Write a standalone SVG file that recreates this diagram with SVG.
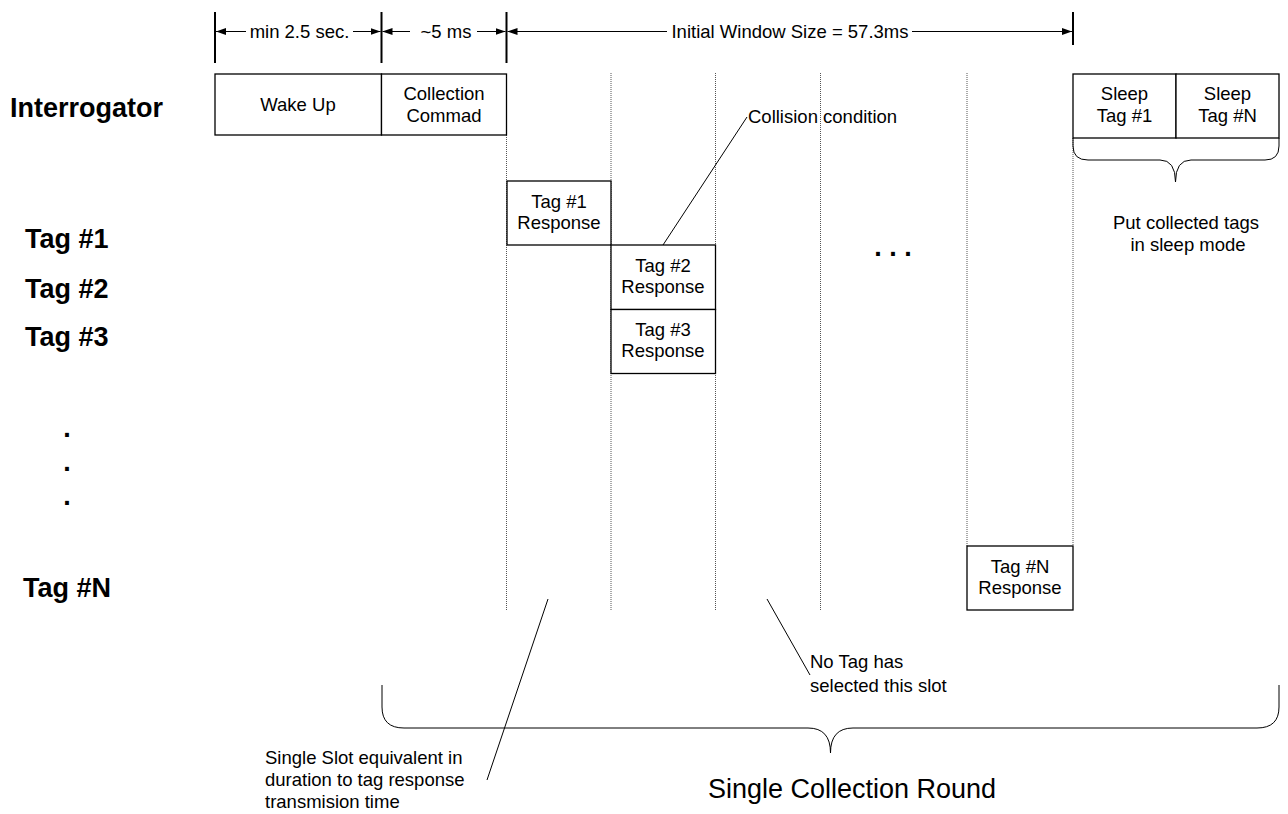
<svg xmlns="http://www.w3.org/2000/svg" width="1288" height="814" viewBox="0 0 1288 814">
<style>
text{font-family:"Liberation Sans",Arial,sans-serif;fill:#000}
.t{font-size:18.5px}
.c{text-anchor:middle}
.b{font-size:27px;font-weight:bold}
.big{font-size:27px}
.box{fill:#fff;stroke:#000;stroke-width:1.3}
.dot{stroke:#555;stroke-width:1;stroke-dasharray:1 1;fill:none}
.ln{stroke:#000;stroke-width:1;fill:none}
.tick{stroke:#000;stroke-width:2}
</style>
<defs>
<marker id="ah" viewBox="0 0 10 7" refX="10" refY="3.5" markerWidth="10" markerHeight="7" orient="auto" markerUnits="userSpaceOnUse"><path d="M0,0 L10,3.5 L0,7 z" fill="#000"/></marker>
</defs>
<rect width="1288" height="814" fill="#fff"/>

<g id="slots">
<line class="dot" x1="506.5" y1="135" x2="506.5" y2="610"/>
<line class="dot" x1="611" y1="73" x2="611" y2="610"/>
<line class="dot" x1="715.5" y1="73" x2="715.5" y2="610"/>
<line class="dot" x1="820.5" y1="73" x2="820.5" y2="610"/>
<line class="dot" x1="967" y1="73" x2="967" y2="546"/>
<line class="dot" x1="1073" y1="138" x2="1073" y2="546"/>
</g>

<g id="dimensions">
<line class="tick" x1="215" y1="12" x2="215" y2="63"/>
<line class="tick" x1="381.5" y1="12" x2="381.5" y2="63"/>
<line class="tick" x1="506.5" y1="12" x2="506.5" y2="63"/>
<line class="tick" x1="1073" y1="12" x2="1073" y2="45"/>
<line class="ln" x1="246" y1="31.5" x2="216" y2="31.5" marker-end="url(#ah)"/>
<line class="ln" x1="353" y1="31.5" x2="380.5" y2="31.5" marker-end="url(#ah)"/>
<text class="t c" x="299.5" y="38">min 2.5 sec.</text>
<line class="ln" x1="410" y1="31.5" x2="382.5" y2="31.5" marker-end="url(#ah)"/>
<line class="ln" x1="477" y1="31.5" x2="505.5" y2="31.5" marker-end="url(#ah)"/>
<text class="t c" x="446" y="38">~5 ms</text>
<line class="ln" x1="667" y1="31.5" x2="507.5" y2="31.5" marker-end="url(#ah)"/>
<line class="ln" x1="912" y1="31.5" x2="1072" y2="31.5" marker-end="url(#ah)"/>
<text class="t c" x="790" y="38">Initial Window Size = 57.3ms</text>
</g>

<g id="labels">
<text class="b" x="10" y="117">Interrogator</text>
<text class="b" x="25" y="248">Tag #1</text>
<text class="b" x="25" y="298">Tag #2</text>
<text class="b" x="25" y="346">Tag #3</text>
<text class="b c" x="67" y="437">.</text>
<text class="b c" x="67" y="471">.</text>
<text class="b c" x="67" y="505">.</text>
<text class="b" x="23" y="597">Tag #N</text>
<text class="b c" x="893" y="256">. . .</text>
</g>

<g id="wake-up">
<rect class="box" x="215" y="74" width="166.5" height="61"/>
<text class="t c" x="298" y="111">Wake Up</text>
</g>
<g id="collection-command">
<rect class="box" x="381.5" y="74" width="125" height="61"/>
<text class="t c" x="444" y="100">Collection</text>
<text class="t c" x="444" y="122">Commad</text>
</g>
<g id="sleep-tag-1">
<rect class="box" x="1073" y="74" width="103" height="64"/>
<text class="t c" x="1124.5" y="100">Sleep</text>
<text class="t c" x="1124.5" y="122">Tag #1</text>
</g>
<g id="sleep-tag-n">
<rect class="box" x="1176" y="74" width="103" height="64"/>
<text class="t c" x="1227.5" y="100">Sleep</text>
<text class="t c" x="1227.5" y="122">Tag #N</text>
</g>
<g id="tag1-response">
<rect class="box" x="507" y="181" width="104" height="64"/>
<text class="t c" x="559" y="208">Tag #1</text>
<text class="t c" x="559" y="229">Response</text>
</g>
<g id="tag2-response">
<rect class="box" x="611" y="245" width="104.5" height="64.5"/>
<text class="t c" x="663" y="272">Tag #2</text>
<text class="t c" x="663" y="293">Response</text>
</g>
<g id="tag3-response">
<rect class="box" x="611" y="309.5" width="104.5" height="64"/>
<text class="t c" x="663" y="336">Tag #3</text>
<text class="t c" x="663" y="357">Response</text>
</g>
<g id="tagn-response">
<rect class="box" x="967" y="546" width="106" height="64"/>
<text class="t c" x="1020" y="573">Tag #N</text>
<text class="t c" x="1020" y="594">Response</text>
</g>

<g id="connectors">
<line class="ln" x1="663" y1="245" x2="747" y2="117"/>
<line class="ln" x1="767" y1="599" x2="810" y2="675"/>
<line class="ln" x1="548" y1="599" x2="487" y2="780"/>
<path class="ln" d="M1073,138 L1073,146 Q1073,160 1088,160 L1160,160 Q1175.5,160 1175.5,182 Q1175.5,160 1191,160 L1265,160 Q1279,160 1279,146 L1279,138"/>
<path class="ln" d="M382,685 L382,707 Q382,728 404,728 L808,728 Q830.5,728 830.5,753 Q830.5,728 853,728 L1257,728 Q1279,728 1279,707 L1279,685"/>
</g>

<g id="annotations">
<text class="t" x="748" y="123">Collision condition</text>
<text class="t c" x="1186" y="229">Put collected tags</text>
<text class="t c" x="1188" y="251">in sleep mode</text>
<text class="t" x="810" y="668">No Tag has</text>
<text class="t" x="810" y="692">selected this slot</text>
<text class="t" x="265" y="764">Single Slot equivalent in</text>
<text class="t" x="265" y="786">duration to tag response</text>
<text class="t" x="265" y="808">transmision time</text>
<text class="big c" x="852" y="798">Single Collection Round</text>
</g>
</svg>
